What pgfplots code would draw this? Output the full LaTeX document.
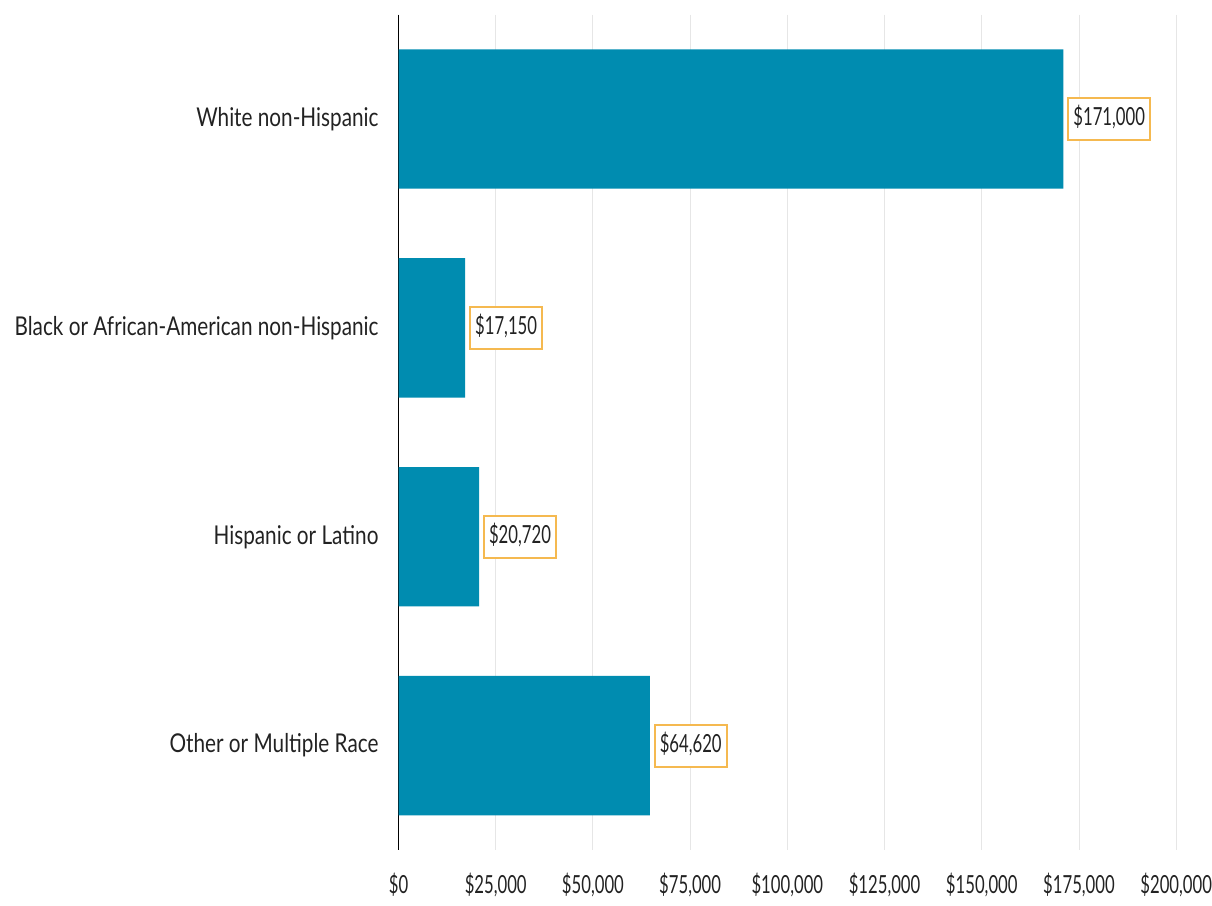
\documentclass[border=0pt]{standalone}
\usepackage{pgfplots}
\pgfplotsset{compat=1.18}
\usepackage{fontspec}
\setmainfont{Lato}[FakeStretch=0.80]
\newfontfamily\numfont{Lato}[FakeStretch=0.67]
\definecolor{barblue}{RGB}{0,140,176}
\definecolor{boxorange}{RGB}{245,185,80}
\definecolor{gridgray}{RGB}{230,230,230}
\definecolor{txt}{RGB}{34,34,34}
\begin{document}
\fontsize{13}{15}\selectfont
\begin{tikzpicture}
\begin{axis}[
  scale only axis,
  width=390pt, height=419pt,
  xbar,
  xmin=0, xmax=200000,
  ymin=-0.5, ymax=3.5,
  y dir=reverse,
  bar width=0.667,
  axis lines=left,
  axis line style={-},
  x axis line style={draw=none},
  y axis line style={black, line width=0.6pt},
  scaled x ticks=false,
  xtick={0,25000,50000,75000,100000,125000,150000,175000,200000},
  xticklabels={{\$0},{\$25,000},{\$50,000},{\$75,000},{\$100,000},{\$125,000},{\$150,000},{\$175,000},{\$200,000}},
  ytick={0,1,2,3},
  yticklabels={White non-Hispanic,Black or African-American non-Hispanic,Hispanic or Latino,Other or Multiple Race},
  major tick length=0pt,
  xmajorgrids,
  grid style={gridgray, line width=0.5pt},
  yticklabel style={font=\fontsize{13}{15}\selectfont, text=txt, xshift=-5.5pt},
  xticklabel style={font=\numfont\fontsize{12.5}{15}\selectfont, text=txt, yshift=-7pt, inner xsep=0pt},
  point meta=explicit symbolic,
  nodes near coords,
  nodes near coords style={anchor=west, xshift=2pt, draw=boxorange, line width=1pt, fill=white, text=txt, inner xsep=2.5pt, inner ysep=5pt, text height=9pt, text depth=2pt, font=\numfont\fontsize{12.5}{15}\selectfont},
]
\addplot[fill=barblue, draw=none] coordinates {
  (171000,0) [\$171,000]
  (17150,1) [\$17,150]
  (20720,2) [\$20,720]
  (64620,3) [\$64,620]
};
\end{axis}
\path ([yshift=7pt]current bounding box.north);
\path ([xshift=-3pt]current bounding box.west);
\end{tikzpicture}
\end{document}
